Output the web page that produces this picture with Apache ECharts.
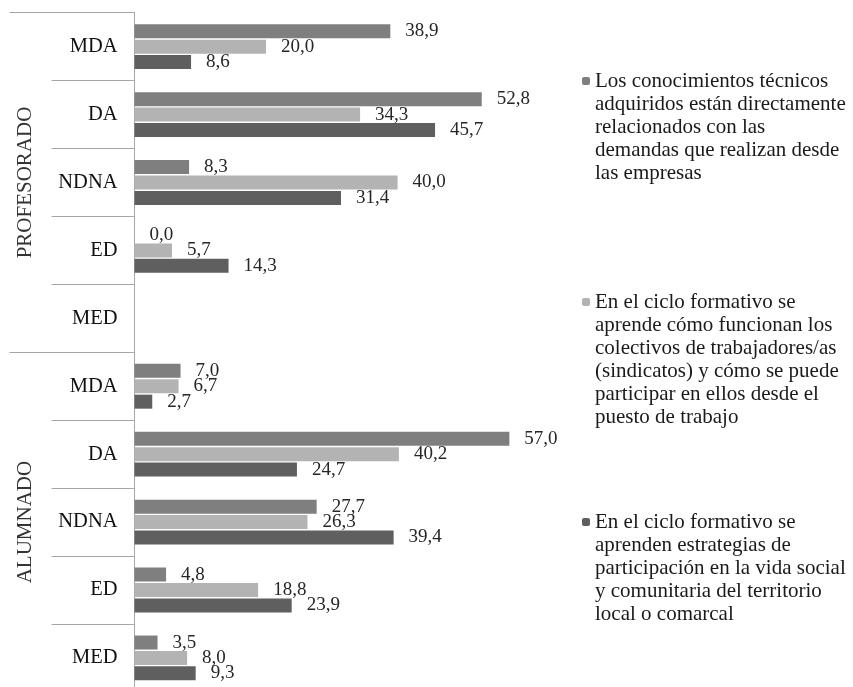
<!DOCTYPE html>
<html>
<head>
<meta charset="utf-8">
<script src="https://cdn.jsdelivr.net/npm/echarts@6/dist/echarts.min.js"></script>
<style>
html,body{margin:0;padding:0;background:#fff;}
#c{width:853px;height:687px;}
</style>
</head>
<body>
<div id="c"></div>
<script>
var groups = ['PROFESORADO', 'ALUMNADO'];
var subCategories = ['MDA', 'DA', 'NDNA', 'ED', 'MED'];
var seriesNames = [
  'Los conocimientos técnicos\nadquiridos están directamente\nrelacionados con las\ndemandas que realizan desde\nlas empresas',
  'En el ciclo formativo se\naprende cómo funcionan los\ncolectivos de trabajadores/as\n(sindicatos) y cómo se puede\nparticipar en ellos desde el\npuesto de trabajo',
  'En el ciclo formativo se\naprenden estrategias de\nparticipación en la vida social\ny comunitaria del territorio\nlocal o comarcal'
];
var conocimientos = [38.9, 52.8, 8.3, 0.0, null, 7.0, 57.0, 27.7, 4.8, 3.5];
var sindicatos    = [20.0, 34.3, 40.0, 5.7, null, 6.7, 40.2, 26.3, 18.8, 8.0];
var participacion = [8.6, 45.7, 31.4, 14.3, null, 2.7, 24.7, 39.4, 23.9, 9.3];

var colors = ['#7f7f7f', '#b3b3b3', '#5f5f5f'];
var values = [conocimientos, sindicatos, participacion];
var FONT = 'Liberation Serif';
var lineCol = '#a6a6a6';

var categories = [];
groups.forEach(function () { subCategories.forEach(function (s) { categories.push(s); }); });

var legendIconCenters = [81, 302, 522];
var LH = 23;

var chart = echarts.init(document.getElementById('c'));
chart.setOption({
  animation: false,
  grid: { left: 134.5, top: 12.7, width: 394.6, height: 679.2, containLabel: false, outerBoundsMode: 'none' },
  xAxis: { type: 'value', min: 0, max: 60, show: false },
  yAxis: [
    {
      type: 'category', data: categories, inverse: true, position: 'left', offset: 0,
      axisLine: { show: true, lineStyle: { color: lineCol, width: 1 } },
      axisTick: { show: true, length: 83, interval: 0, lineStyle: { color: lineCol, width: 1 } },
      axisLabel: { interval: 0, margin: 17, fontFamily: FONT, fontSize: 20.5, color: '#111' }
    },
    {
      type: 'category', data: groups, inverse: true, position: 'left', offset: 0,
      axisLine: { show: false },
      axisTick: { show: true, length: 125, interval: 0, lineStyle: { color: lineCol, width: 1 } },
      axisLabel: { interval: 0, rotate: 90, margin: 99, fontFamily: FONT, fontSize: 21, color: '#333' }
    }
  ],
  legend: seriesNames.map(function (n, i) {
    var lines = n.split('\n').length;
    var pad = new Array(lines).join('\n');
    return {
      data: [n], orient: 'vertical', left: 582,
      top: legendIconCenters[i] - (2 * lines - 1) * LH / 2,
      padding: 0, itemWidth: 8, itemHeight: 8, itemGap: 0,
      selectedMode: false,
      formatter: function (name) { return pad + name; },
      textStyle: { fontFamily: FONT, fontSize: 21, lineHeight: LH, color: '#1a1a1a' }
    };
  }),
  series: values.map(function (v, i) {
    return {
      type: 'bar', name: seriesNames[i], data: v, yAxisIndex: 0,
      barWidth: 14, barGap: '10%',
      itemStyle: { color: colors[i] },
      label: {
        show: true, position: 'right', distance: 15,
        fontFamily: FONT, fontSize: 19, color: '#262626',
        formatter: function (p) { return p.value == null ? '' : p.value.toFixed(1).replace('.', ','); }
      }
    };
  })
});
</script>
</body>
</html>
